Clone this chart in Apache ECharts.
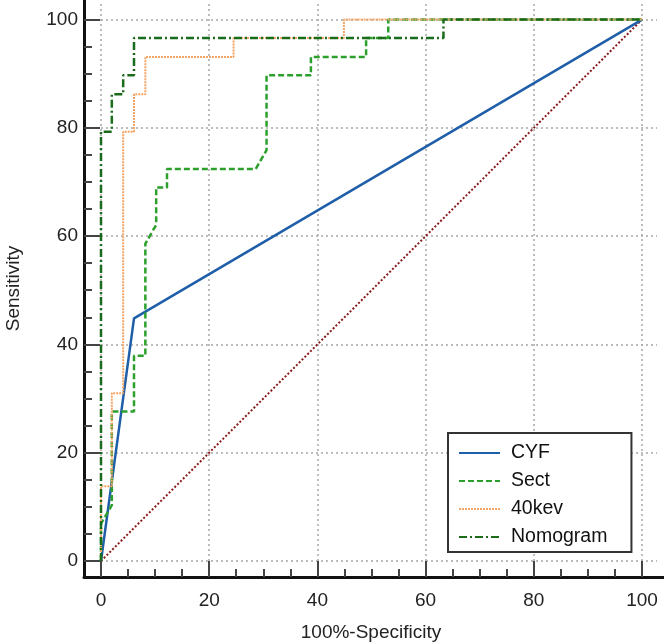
<!DOCTYPE html>
<html><head><meta charset="utf-8">
<script src="https://cdn.jsdelivr.net/npm/echarts@6/dist/echarts.min.js"></script>
<style>html,body{margin:0;padding:0;background:#fff}#c{width:664px;height:642px}</style>
</head><body><div id="c"></div>
<script>
const seriesNames = ['CYF', 'Sect', '40kev', 'Nomogram'];
const cyfX = [0, 6.1, 100];
const cyfY = [0, 44.8, 100];
const sectX = [0, 0, 2.0, 2.0, 6.1, 6.1, 8.2, 8.2, 10.2, 10.2, 12.2, 12.2, 28.6, 30.6, 30.6, 38.8, 38.8, 49.0, 49.0, 53.1, 53.1, 100];
const sectY = [0, 6.9, 10.3, 27.6, 27.6, 37.9, 37.9, 58.6, 62.1, 69.0, 69.0, 72.4, 72.4, 75.9, 89.7, 89.7, 93.1, 93.1, 96.6, 96.6, 100, 100];
const kevX = [0, 0, 2.0, 2.0, 4.1, 4.1, 6.1, 6.1, 8.2, 8.2, 24.5, 24.5, 44.9, 44.9, 100];
const kevY = [0, 13.8, 13.8, 31.0, 31.0, 79.3, 79.3, 86.2, 86.2, 93.1, 93.1, 96.6, 96.6, 100, 100];
const nomoX = [0, 0, 2.0, 2.0, 4.1, 4.1, 6.1, 6.1, 63.3, 63.3, 100];
const nomoY = [0, 79.3, 79.3, 86.2, 86.2, 89.7, 89.7, 96.6, 96.6, 100, 100];
const refX = [0, 100];
const refY = [0, 100];
const tickLabels = [0, 20, 40, 60, 80, 100];
const minorTicks = [5, 10, 15, 25, 30, 35, 45, 50, 55, 65, 70, 75, 85, 90, 95];
const xTitle = '100%-Specificity';
const yTitle = 'Sensitivity';

const zip = (xs, ys) => xs.map((x, i) => [x, ys[i]]);
const FONT = 'Liberation Sans, Arial, sans-serif';
const gridLine = { show: true, showMaxLine: false, showMinLine: true, lineStyle: { color: '#a8a8a8', type: [2, 3], width: 1.5 } };

const chart = echarts.init(document.getElementById('c'), null, { renderer: 'canvas' });
chart.setOption({
  animation: false,
  backgroundColor: '#fff',
  textStyle: { fontFamily: FONT },
  grid: [
    { left: 101, right: 7, top: 4, bottom: 81, outerBoundsMode: 'none', containLabel: false },
    { left: 84, right: 0, top: 0, bottom: 65, outerBoundsMode: 'none', containLabel: false }
  ],
  xAxis: [
    { type: 'value', gridIndex: 0, min: 0, max: 102.77, interval: 20,
      axisLine: { show: false, onZero: false }, axisTick: { show: false }, axisLabel: { show: false }, splitLine: gridLine },
    { type: 'value', gridIndex: 1, min: -3.142, max: 104.07, position: 'bottom',
      axisLine: { show: true, onZero: false, lineStyle: { color: '#111', width: 3 } },
      axisTick: { show: true, inside: true, length: 16, customValues: tickLabels, lineStyle: { color: '#444', width: 2 } },
      axisLabel: { show: true, customValues: tickLabels, fontSize: 19, margin: 14, color: '#222', fontFamily: FONT },
      splitLine: { show: false },
      name: xTitle, nameLocation: 'middle', nameGap: 46,
      nameTextStyle: { fontSize: 19, color: '#222', fontFamily: FONT, padding: [0, 6, 0, 0] } },
    { type: 'value', gridIndex: 1, min: -3.142, max: 104.07, position: 'bottom',
      axisLine: { show: false, onZero: false },
      axisTick: { show: true, inside: true, length: 8, customValues: minorTicks, lineStyle: { color: '#444', width: 2 } },
      axisLabel: { show: false }, splitLine: { show: false } }
  ],
  yAxis: [
    { type: 'value', gridIndex: 0, min: 0, max: 102.88, interval: 20,
      axisLine: { show: false, onZero: false }, axisTick: { show: false }, axisLabel: { show: false }, splitLine: gridLine },
    { type: 'value', gridIndex: 1, min: -2.955, max: 103.6, position: 'left',
      axisLine: { show: true, onZero: false, lineStyle: { color: '#111', width: 3 } },
      axisTick: { show: true, inside: true, length: 16, customValues: tickLabels, lineStyle: { color: '#444', width: 2 } },
      axisLabel: { show: true, customValues: tickLabels, fontSize: 19, margin: 6, color: '#222', fontFamily: FONT },
      splitLine: { show: false },
      name: yTitle, nameLocation: 'middle', nameGap: 61, nameRotate: 90,
      nameTextStyle: { fontSize: 19, color: '#222', fontFamily: FONT } },
    { type: 'value', gridIndex: 1, min: -2.955, max: 103.6, position: 'left',
      axisLine: { show: false, onZero: false },
      axisTick: { show: true, inside: true, length: 8, customValues: minorTicks, lineStyle: { color: '#444', width: 2 } },
      axisLabel: { show: false }, splitLine: { show: false } }
  ],
  legend: {
    data: seriesNames, orient: 'vertical', left: 448, top: 433,
    itemWidth: 41, itemHeight: 14, itemGap: 8,
    padding: [10, 24, 5, 10],
    borderColor: '#333', borderWidth: 2, backgroundColor: '#fff',
    itemStyle: { color: 'rgba(0,0,0,0)', borderColor: 'rgba(0,0,0,0)', borderWidth: 0, opacity: 0 },
    textStyle: { fontSize: 19.5, color: '#111', fontFamily: FONT, padding: [0, 0, 0, 6] }
  },
  series: [
    { name: 'ref', type: 'line', xAxisIndex: 0, yAxisIndex: 0, data: zip(refX, refY), symbol: 'none',
      lineStyle: { color: '#8b1a1a', width: 2, type: [2, 2] }, itemStyle: { color: '#8b1a1a' }, z: 2 },
    { name: seriesNames[0], type: 'line', xAxisIndex: 0, yAxisIndex: 0, data: zip(cyfX, cyfY), symbol: 'none',
      lineStyle: { color: '#1f5ea8', width: 2.5, type: 'solid' }, itemStyle: { color: '#1f5ea8' }, z: 3 },
    { name: seriesNames[1], type: 'line', xAxisIndex: 0, yAxisIndex: 0, data: zip(sectX, sectY), symbol: 'none',
      lineStyle: { color: '#2ca02c', width: 2.5, type: [6, 3] }, itemStyle: { color: '#2ca02c' }, z: 4 },
    { name: seriesNames[2], type: 'line', xAxisIndex: 0, yAxisIndex: 0, data: zip(kevX, kevY), symbol: 'none',
      lineStyle: { color: '#f4a464', width: 2, type: [2, 1] }, itemStyle: { color: '#f4a464' }, z: 5 },
    { name: seriesNames[3], type: 'line', xAxisIndex: 0, yAxisIndex: 0, data: zip(nomoX, nomoY), symbol: 'none',
      lineStyle: { color: '#1a6b1a', width: 2.5, type: [8, 3, 2, 3] }, itemStyle: { color: '#1a6b1a' }, z: 6 }
  ]
});
</script></body></html>
